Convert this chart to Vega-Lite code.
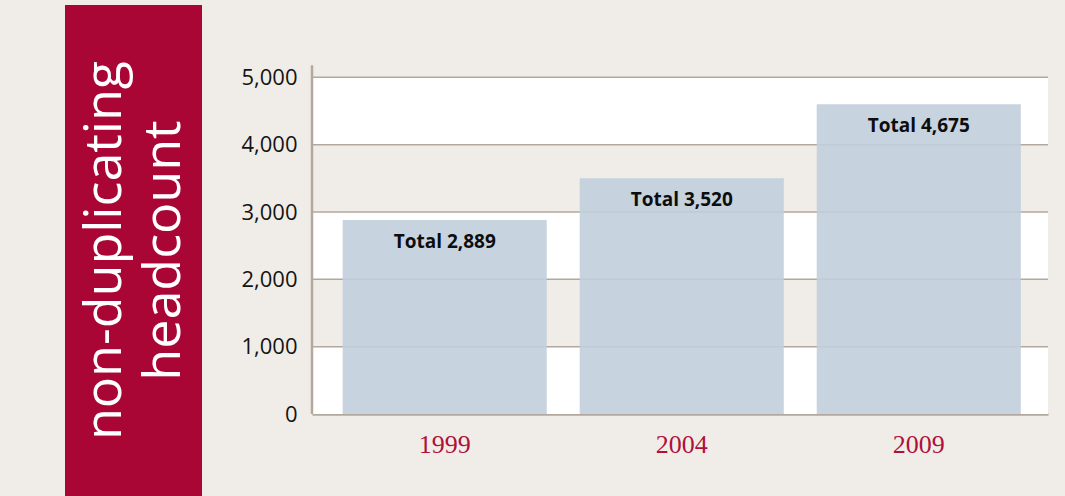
{
  "$schema": "https://vega.github.io/schema/vega-lite/v6.json",
  "background": "#f0ede8",
  "padding": {"left": 65, "top": 5, "right": 17, "bottom": 0},
  "bounds": "flush",
  "spacing": 110,
  "config": {"view": {"stroke": null}, "font": "Open Sans"},
  "hconcat": [
    {
      "width": 137,
      "height": 491,
      "view": {"fill": "#a90636", "stroke": null},
      "data": {"values": [{"title": "non-duplicating headcount"}]},
      "mark": {"type": "text", "angle": 270, "color": "white", "font": "Open Sans", "fontSize": 52, "lineHeight": 59, "lineBreak": " ", "align": "center", "baseline": "middle", "dy": -29},
      "encoding": {"text": {"field": "title"}}
    },
    {
      "width": 736,
      "height": 409,
      "layer": [
        {
          "data": {"values": [{"lo": 0, "hi": 1000}, {"lo": 2000, "hi": 3000}, {"lo": 4000, "hi": 5000}]},
          "mark": {"type": "rect", "color": "white"},
          "encoding": {
            "y": {"field": "lo", "type": "quantitative", "title": null,
              "scale": {"domain": [0, 6075], "nice": false, "zero": true},
              "axis": {"values": [0, 1000, 2000, 3000, 4000, 5000], "format": ",d", "domain": false, "ticks": false, "grid": false, "labelFont": "Open Sans", "labelFontSize": 22, "labelColor": "#141414", "labelPadding": 15}},
            "y2": {"field": "hi"}
          }
        },
        {
          "data": {"values": [{"v": 1000}, {"v": 2000}, {"v": 3000}, {"v": 4000}, {"v": 5000}]},
          "mark": {"type": "rule", "color": "#b3a89e", "strokeWidth": 1.5},
          "encoding": {"y": {"field": "v", "type": "quantitative", "title": null}}
        },
        {
          "data": {"values": [{"a": 0}]},
          "mark": {"type": "rule", "color": "#b3a89e", "strokeWidth": 2.5},
          "encoding": {"x": {"value": 0}, "y": {"datum": 0, "type": "quantitative"}, "y2": {"datum": 5180}}
        },
        {
          "data": {"name": "main", "values": [
            {"year": "1999", "bar": 2880, "label": "Total 2,889"},
            {"year": "2004", "bar": 3500, "label": "Total 3,520"},
            {"year": "2009", "bar": 4600, "label": "Total 4,675"}
          ]},
          "layer": [
            {
              "mark": {"type": "bar", "color": "#c1cedb", "opacity": 0.9},
              "encoding": {
                "x": {"field": "year", "type": "nominal", "title": null,
                  "scale": {"paddingInner": 0.139, "paddingOuter": 0.122, "align": 0.53},
                  "axis": {"labelAngle": 0, "ticks": false, "grid": false, "domainColor": "#b3a89e", "domainWidth": 2.5, "labelFont": "Liberation Serif", "labelFontSize": 26, "labelColor": "#b0103a", "labelBaseline": "alphabetic", "labelPadding": 38}},
                "y": {"field": "bar", "type": "quantitative", "title": null}
              }
            },
            {
              "mark": {"type": "text", "font": "Open Sans", "fontWeight": "bold", "fontSize": 19, "dy": 22, "color": "#0d0d0d", "baseline": "middle"},
              "encoding": {
                "x": {"field": "year", "type": "nominal"},
                "y": {"field": "bar", "type": "quantitative"},
                "text": {"field": "label"}
              }
            }
          ]
        }
      ]
    }
  ]
}
